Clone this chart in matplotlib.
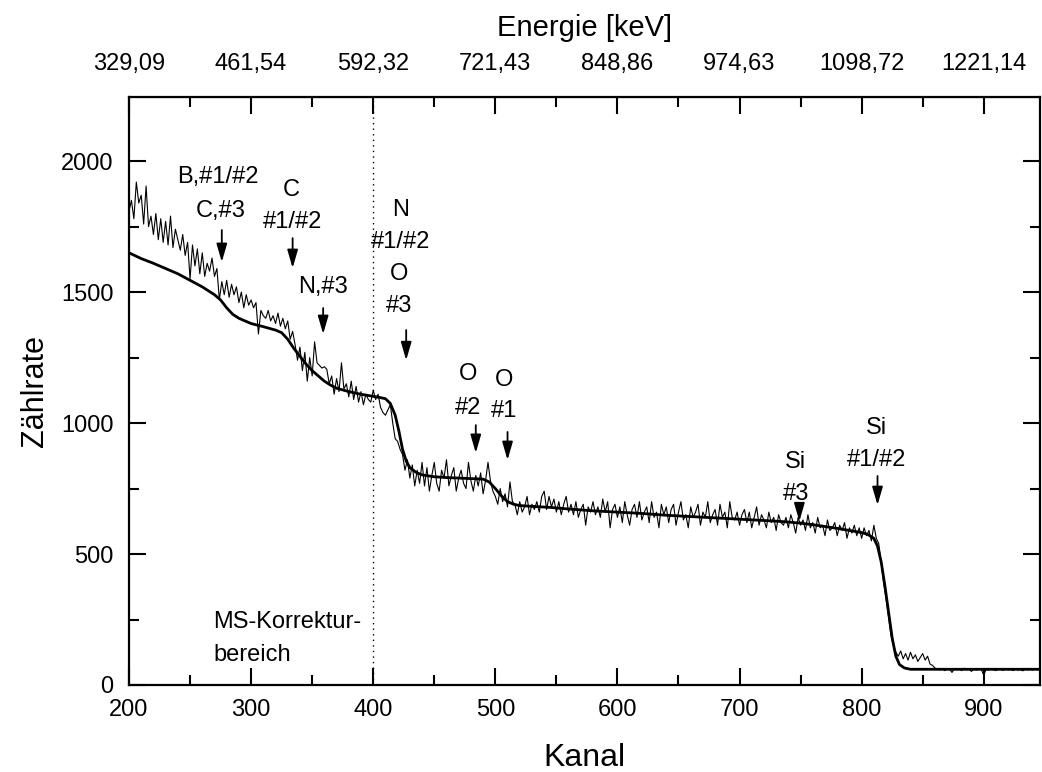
import numpy as np
import matplotlib.pyplot as plt
from matplotlib.ticker import MultipleLocator, FixedLocator, FixedFormatter

plt.rcParams['font.family'] = ['Liberation Sans', 'DejaVu Sans']

# measured spectrum, every 2nd channel from 200
kanal_start = 200
kanal_step = 2
zaehlrate = [
    1810, 1850, 1780, 1920, 1840, 1870, 1760, 1905, 1750, 1790,
    1720, 1800, 1700, 1780, 1690, 1770, 1680, 1790, 1670, 1740,
    1700, 1660, 1720, 1640, 1690, 1550, 1680, 1600, 1665, 1570,
    1650, 1560, 1610, 1580, 1630, 1560, 1590, 1470, 1540, 1490,
    1545, 1480, 1530, 1490, 1520, 1460, 1500, 1440, 1490, 1450,
    1470, 1440, 1460, 1340, 1430, 1410, 1400, 1430, 1390, 1410,
    1380, 1420, 1370, 1400, 1360, 1390, 1320, 1350, 1300, 1240,
    1290, 1200, 1270, 1160, 1250, 1180, 1310, 1230, 1220, 1210,
    1215, 1205, 1150, 1180, 1110, 1170, 1120, 1230, 1130, 1150,
    1100, 1160, 1090, 1140, 1080, 1120, 1070, 1110, 1090, 1080,
    1125, 1090, 1110, 1060, 1040, 1030, 1050, 1070, 1000, 940,
    930, 900, 880, 820, 860, 790, 840, 760, 820, 770,
    850, 760, 830, 740, 800, 850, 770, 740, 820, 790,
    860, 760, 800, 830, 740, 790, 820, 770, 750, 850,
    780, 740, 800, 760, 810, 730, 780, 850, 780, 740,
    720, 690, 750, 700, 730, 680, 775, 700, 690, 650,
    700, 660, 680, 720, 650, 690, 670, 700, 660, 720,
    740, 670, 720, 680, 710, 660, 700, 650, 690, 720,
    660, 690, 650, 700, 640, 670, 690, 610, 680, 660,
    700, 650, 680, 640, 710, 660, 700, 600, 670, 690,
    640, 680, 620, 700, 650, 610, 670, 690, 640, 700,
    630, 660, 680, 620, 700, 640, 660, 600, 690, 650,
    680, 620, 670, 690, 610, 660, 700, 630, 650, 600,
    680, 640, 660, 690, 610, 660, 640, 700, 620, 650,
    670, 610, 690, 640, 660, 600, 700, 640, 630, 660,
    610, 650, 670, 620, 660, 600, 640, 680, 610, 650,
    630, 600, 660, 620, 640, 590, 650, 620, 610, 640,
    600, 650, 620, 580, 640, 610, 630, 590, 650, 600,
    620, 580, 640, 600, 610, 570, 630, 590, 600, 620,
    570, 610, 590, 620, 560, 600, 580, 610, 570, 600,
    560, 600, 570, 590, 550, 610, 560, 540, 470, 390,
    330, 260, 190, 150, 125, 110, 130, 100, 120, 95,
    125, 100, 115, 90, 105, 120, 95, 110, 80, 75,
    65, 60, 58, 62, 55, 63, 60, 48, 62, 58,
    60, 55, 64, 58, 60, 52, 61, 57, 62, 59,
    38, 60, 57, 63, 58, 55, 61, 59, 56, 62,
    58, 60, 55, 62, 57, 60, 54, 61, 58, 60,
    57, 62, 58, 60,
]
kanal = kanal_start + kanal_step * np.arange(len(zaehlrate))

# simulated spectrum
sim_kanal = [200, 210, 220, 230, 240, 250, 260, 265, 270, 275, 280, 285, 290,
             300, 310, 320, 325, 330, 335, 340, 345, 350, 355, 360, 365, 370,
             380, 390, 400, 405, 410, 414, 418, 421, 424, 427, 430, 435, 440,
             450, 460, 470, 480, 490, 495, 500, 505, 510, 515, 520, 530, 545,
             560, 580, 600, 620, 640, 660, 680, 700, 720, 735, 750, 760, 770,
             780, 790, 800, 805, 810, 813, 816, 819, 822, 825, 828, 831, 835,
             840, 860, 900, 946]
sim_rate = [1650, 1628, 1610, 1590, 1570, 1545, 1520, 1505, 1490, 1470, 1440,
            1415, 1400, 1380, 1368, 1355, 1345, 1320, 1285, 1255, 1225, 1200,
            1180, 1160, 1145, 1133, 1120, 1110, 1102, 1098, 1093, 1075, 1030,
            970, 900, 855, 830, 812, 802, 795, 792, 790, 788, 786, 775, 750,
            722, 700, 690, 685, 682, 678, 672, 665, 660, 655, 648, 643, 638,
            633, 628, 624, 618, 612, 605, 598, 590, 582, 575, 560, 530, 470,
            380, 280, 180, 110, 78, 65, 60, 60, 60, 60]

energie_ticks = [200, 300, 400, 500, 600, 700, 800, 900]
energie_labels = ["329,09", "461,54", "592,32", "721,43",
                  "848,86", "974,63", "1098,72", "1221,14"]

# element labels: (text, x, y) and arrows: (x, y_start, y_tip)
labels = [
    ("B,#1/#2", 273, 1939), ("C,#3", 275, 1809),
    ("C", 333, 1889), ("#1/#2", 334, 1767),
    ("N,#3", 359, 1519),
    ("N", 422, 1813), ("#1/#2", 422, 1691), ("O", 421, 1569), ("#3", 421, 1447),
    ("O", 478, 1187), ("#2", 478, 1057),
    ("O", 507, 1164), ("#1", 507, 1046),
    ("Si", 746, 851), ("#3", 746, 729),
    ("Si", 812, 981), ("#1/#2", 812, 859),
]
arrows = [(276, 1737, 1615), (334, 1706, 1592), (359, 1439, 1340),
          (427, 1355, 1240), (484, 992, 886), (510, 966, 859),
          (749, 690, 625), (813, 798, 687)]

fig = plt.figure(figsize=(10.42, 7.72), dpi=100)
ax = fig.add_axes([0.1238, 0.1127, 0.8742, 0.7617])

ax.plot(kanal, zaehlrate, color='black', lw=0.8)
ax.plot(sim_kanal, sim_rate, color='black', lw=2.0)
ax.axvline(400, color='black', lw=1.0, ls=(0, (1, 3)))

for txt, x, y in labels:
    ax.text(x, y, txt, ha='center', va='center', fontsize=17)
for x, y0, y1 in arrows:
    ax.annotate('', xy=(x, y1), xytext=(x, y0),
                arrowprops=dict(arrowstyle='-|>,head_length=1.1,head_width=0.32',
                                color='black', lw=1.3, mutation_scale=10,
                                shrinkA=0, shrinkB=0))

ax.text(269, 240, "MS-Korrektur-", ha='left', va='center', fontsize=17)
ax.text(269, 115, "bereich", ha='left', va='center', fontsize=17)

ax.set_xlim(200, 946)
ax.set_ylim(0, 2245)
ax.xaxis.set_major_locator(MultipleLocator(100))
ax.xaxis.set_minor_locator(MultipleLocator(50))
ax.yaxis.set_major_locator(FixedLocator([0, 500, 1000, 1500, 2000]))
ax.yaxis.set_minor_locator(FixedLocator([250, 750, 1250, 1750]))
ax.tick_params(which='both', direction='in', top=True, right=True,
               labelsize=17, width=1.5)
ax.tick_params(which='major', length=12)
ax.tick_params(which='minor', length=7)
ax.tick_params(axis='x', which='major', pad=10)
ax.tick_params(axis='y', which='major', pad=11)
for s in ax.spines.values():
    s.set_linewidth(1.6)

ax.set_xlabel("Kanal", fontsize=23, labelpad=16)
ax.set_ylabel("Zählrate", fontsize=22, labelpad=8)

top = ax.secondary_xaxis('top')
top.xaxis.set_major_locator(FixedLocator(energie_ticks))
top.xaxis.set_major_formatter(FixedFormatter(energie_labels))
top.tick_params(which='both', direction='in', length=0, labelsize=17, pad=16)
top.set_xlabel("Energie [keV]", fontsize=21, labelpad=12)

fig.savefig("out.png", dpi=100)
